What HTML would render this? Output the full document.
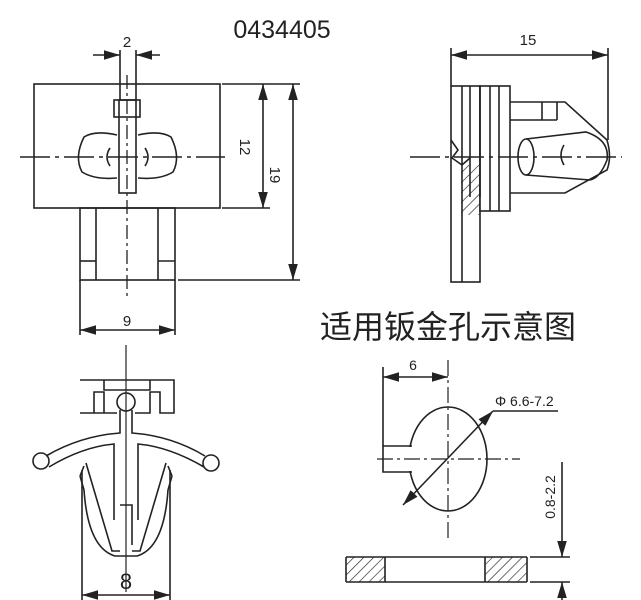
<!DOCTYPE html>
<html><head><meta charset="utf-8"><style>
html,body{margin:0;padding:0;background:#fff;}
svg{display:block;}
text{font-family:"Liberation Sans","Noto Sans CJK SC",sans-serif;fill:#222;}
</style></head><body>
<svg width="641" height="600" viewBox="0 0 641 600" xmlns="http://www.w3.org/2000/svg">
<defs>
<marker id="a" viewBox="0 0 10 6" refX="10" refY="3" markerWidth="10" markerHeight="6" orient="auto-start-reverse"><path d="M0,0L10,3L0,6z" fill="#222"/></marker>
<pattern id="h" width="7" height="7" patternUnits="userSpaceOnUse" patternTransform="rotate(45)"><line x1="0" y1="0" x2="0" y2="7" stroke="#222" stroke-width="1.3"/></pattern>
</defs>
<g stroke="#222" stroke-width="1.6" fill="none">
<rect x="34" y="84" width="186" height="124"/>
<line x1="20" y1="157" x2="225" y2="157" stroke-dasharray="30,5,4,5"/>
<rect x="119" y="100" width="17" height="93"/>
<rect x="114" y="100" width="26" height="17"/>
<line x1="127" y1="75" x2="127" y2="300" stroke-dasharray="14,4,3,4" stroke-width="1.3"/>
<path d="M117,135 Q95,130 84,137 Q74,157 82,172 Q95,180 117,178"/>
<path d="M138,135 Q160,130 171,137 Q181,157 173,172 Q160,180 138,178"/>
<path d="M110,148 Q104,157 110,166"/><path d="M145,148 Q151,157 145,166"/>
<line x1="120" y1="50" x2="120" y2="100"/><line x1="136" y1="50" x2="136" y2="100"/>
<line x1="93" y1="55" x2="120" y2="55" marker-end="url(#a)"/><line x1="160" y1="55" x2="136" y2="55" marker-end="url(#a)"/>
<rect x="80" y="208" width="95" height="72"/>
<line x1="96" y1="208" x2="96" y2="280"/><line x1="158" y1="208" x2="158" y2="280"/>
<line x1="80" y1="261" x2="96" y2="261"/><line x1="158" y1="261" x2="175" y2="261"/>
<line x1="222" y1="84" x2="300" y2="84"/><line x1="222" y1="208" x2="270" y2="208"/>
<line x1="178" y1="280" x2="300" y2="280"/>
<line x1="263" y1="84" x2="263" y2="208" marker-start="url(#a)" marker-end="url(#a)"/>
<line x1="293" y1="84" x2="293" y2="280" marker-start="url(#a)" marker-end="url(#a)"/>
<line x1="80" y1="280" x2="80" y2="335"/><line x1="175" y1="280" x2="175" y2="335"/>
<line x1="80" y1="330" x2="175" y2="330" marker-start="url(#a)" marker-end="url(#a)"/>
<rect x="451" y="86" width="29" height="196"/>
<line x1="462" y1="86" x2="462" y2="282"/>
<rect x="480" y="86" width="30" height="125" fill="#fff"/>
<line x1="470" y1="86" x2="470" y2="197"/><line x1="480" y1="197" x2="480" y2="86"/>
<line x1="490" y1="86" x2="490" y2="211"/><line x1="499" y1="86" x2="499" y2="211"/>
<rect x="461" y="165" width="19" height="50" fill="url(#h)" stroke="none"/>
<path d="M451,140 L458,150 L452,158 L462,165 L470,158"/>
<path d="M510,102 L565,102 L607,140 Q612,157 607,170 L565,193 L510,193"/>
<line x1="542" y1="102" x2="542" y2="120"/><line x1="557" y1="102" x2="557" y2="120"/><line x1="510" y1="120" x2="557" y2="120"/>
<ellipse cx="526" cy="157" rx="8" ry="18"/>
<path d="M526,139 L586,132 Q610,140 607,160 Q600,178 590,180 L526,175"/>
<path d="M564,145 Q558,155 564,165"/>
<line x1="410" y1="157" x2="622" y2="157" stroke-dasharray="30,5,4,5"/>
<line x1="451" y1="48" x2="451" y2="86"/><line x1="608" y1="48" x2="608" y2="140"/>
<line x1="451" y1="55" x2="608" y2="55" marker-start="url(#a)" marker-end="url(#a)"/>
<path d="M80,380 L174,380 L174,413 L160,413 L160,392 L150,392 L150,413 L135,413 M117,413 L104,413 L104,392 L94,392 L94,413 L80,413 Z"/>
<path d="M104,380 L104,390 L150,390 L150,380"/>
<circle cx="126" cy="402" r="9"/>
<path d="M120,410 L120,433 Q80,436 46,456 M132,410 L132,433 Q172,436 205,456"/>
<path d="M49,467 Q82,447 114,444 L114,520 M204,467 Q170,447 138,444 L138,520"/>
<circle cx="41" cy="461" r="8"/><circle cx="211" cy="463" r="8"/>
<path d="M80,476 L84,490 Q88,548 115,556 L137,556 Q164,548 168,490 L172,476"/>
<path d="M84,466 L80,476 M86,463 L112,551 L120,551 M168,466 L172,476 M166,463 L140,551 L132,551"/>
<path d="M120,505 L132,505 L132,545"/>
<line x1="126" y1="345" x2="126" y2="592" stroke-width="1.2"/>
<line x1="82" y1="470" x2="82" y2="602"/><line x1="170" y1="470" x2="170" y2="602"/>
<line x1="82" y1="595" x2="170" y2="595" marker-start="url(#a)" marker-end="url(#a)"/>
<ellipse cx="448" cy="459" rx="39" ry="52"/>
<rect x="384" y="447" width="28" height="24" fill="#fff" stroke="none"/>
<path d="M412,446 L383,446 L383,472 L412,472"/>
<line x1="383" y1="367" x2="383" y2="446"/>
<line x1="383" y1="377" x2="448" y2="377" marker-start="url(#a)" marker-end="url(#a)"/>
<line x1="448" y1="360" x2="448" y2="542" stroke-dasharray="16,4,3,4" stroke-width="1.2"/>
<line x1="377" y1="459" x2="520" y2="459" stroke-dasharray="16,4,3,4" stroke-width="1.2"/>
<line x1="403" y1="505" x2="493" y2="411" marker-start="url(#a)" marker-end="url(#a)"/>
<line x1="493" y1="411" x2="558" y2="411"/>
<rect x="346" y="557" width="39" height="25" fill="url(#h)" stroke="none"/>
<rect x="485" y="557" width="42" height="25" fill="url(#h)" stroke="none"/>
<line x1="346" y1="557" x2="527" y2="557"/><line x1="346" y1="582" x2="527" y2="582"/>
<line x1="385" y1="557" x2="385" y2="582"/><line x1="485" y1="557" x2="485" y2="582"/>
<line x1="346" y1="557" x2="346" y2="582"/><line x1="527" y1="557" x2="527" y2="582"/>
<line x1="530" y1="557" x2="570" y2="557"/><line x1="530" y1="582" x2="570" y2="582"/>
<line x1="562" y1="462" x2="562" y2="557" marker-end="url(#a)"/>
<line x1="562" y1="605" x2="562" y2="582" marker-end="url(#a)"/>
</g>
<text x="282" y="38" font-size="25" text-anchor="middle" font-family="Liberation Mono,monospace">0434405</text>
<text x="127" y="47" font-size="15" text-anchor="middle">2</text>
<text x="528" y="45" font-size="15" text-anchor="middle">15</text>
<text font-size="15" text-anchor="middle" transform="translate(240,147) rotate(90)">12</text>
<text font-size="15" text-anchor="middle" transform="translate(270,175) rotate(90)">19</text>
<text x="127" y="326" font-size="15" text-anchor="middle">9</text>
<text x="448" y="338" font-size="32" text-anchor="middle" font-family="Noto Serif CJK SC,serif">适用钣金孔示意图</text>
<text x="126" y="589" font-size="22" text-anchor="middle">8</text>
<text x="413" y="370" font-size="14" text-anchor="middle">6</text>
<text x="495" y="406" font-size="14">Φ 6.6-7.2</text>
<text font-size="14" text-anchor="middle" transform="translate(555,497) rotate(-90)">0.8-2.2</text>
</svg>
</body></html>
